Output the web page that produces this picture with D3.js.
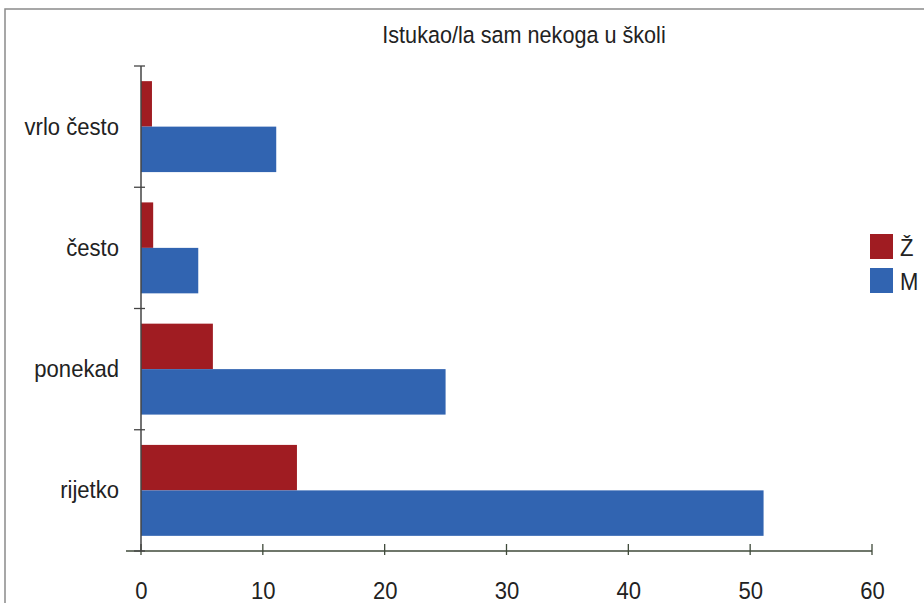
<!DOCTYPE html>
<html><head><meta charset="utf-8">
<script src="https://cdn.jsdelivr.net/npm/d3@7"></script>
<style>body{margin:0;background:#fff;overflow:hidden}svg{display:block}</style>
</head><body>
<svg id="c" width="924" height="603"></svg>
<script>
const title = "Istukao/la sam nekoga u školi";
const categories = ["vrlo često", "često", "ponekad", "rijetko"];
const seriesNames = ["Ž", "M"];
const valuesZ = [0.9, 1.0, 5.9, 12.8];
const valuesM = [11.1, 4.7, 25.0, 51.1];
const xTicks = [0, 10, 20, 30, 40, 50, 60];
const colors = ["#a01c22", "#3164b1"];

const font = "'Liberation Sans Narrow','Arial Narrow','Liberation Sans',Arial,sans-serif";
const sx = 0.92;
const svg = d3.select("#c");
const m = {l: 141, r: 872, t: 66, b: 551};

function label(sel, xx, yy, txt, size, anchor) {
  return sel.append("text").attr("transform", `translate(${xx},${yy}) scale(${sx},1)`)
    .attr("text-anchor", anchor).attr("font-family", font).attr("font-size", size)
    .attr("fill", "#222").text(txt);
}

svg.append("rect").attr("x", 5).attr("y", 9).attr("width", 940).attr("height", 640)
  .attr("fill", "none").attr("stroke", "#8a8a8a").attr("stroke-width", 1.5);

label(svg, 524, 43, title, 23.5, "middle");

const x = d3.scaleLinear().domain([0, 60]).range([m.l, m.r]);
const y = d3.scaleBand().domain(categories).range([m.t, m.b]).paddingInner(0.25).paddingOuter(0.125);
const sub = d3.scaleBand().domain(seriesNames).range([0, y.bandwidth()]);

const data = categories.map((c, i) => ({c, vals: [valuesZ[i], valuesM[i]]}));
const g = svg.append("g");
data.forEach(d => {
  d.vals.forEach((v, j) => {
    g.append("rect").attr("x", x(0)).attr("y", y(d.c) + sub(seriesNames[j]))
      .attr("width", x(v) - x(0)).attr("height", sub.bandwidth()).attr("fill", colors[j]);
  });
});

// x axis (built from d3 axis, styled)
const xa = svg.append("g").attr("transform", `translate(0,${m.b})`)
  .call(d3.axisBottom(x).tickValues(xTicks).tickSize(0).tickPadding(0));
xa.select(".domain").remove();
xa.selectAll(".tick text").remove();
xa.selectAll(".tick").each(function(d) {
  label(d3.select(this), 0, 48, d, 24, "middle");
});
svg.append("line").attr("x1", 126).attr("x2", m.r).attr("y1", m.b).attr("y2", m.b)
  .attr("stroke", "#3f4a3a").attr("stroke-width", 1.5);
svg.selectAll(".xt").data(xTicks).join("line").attr("class", "xt")
  .attr("x1", d => x(d)).attr("x2", d => x(d)).attr("y1", m.b - 7).attr("y2", m.b + 4)
  .attr("stroke", "#3f4a3a").attr("stroke-width", 1.3);

// y axis
svg.append("line").attr("x1", m.l).attr("x2", m.l).attr("y1", m.t).attr("y2", m.b)
  .attr("stroke", "#444").attr("stroke-width", 1.5);
const step = (m.b - m.t) / categories.length;
const yTickPos = d3.range(categories.length + 1).map(i => m.t + i * step);
svg.selectAll(".yt").data(yTickPos).join("line").attr("class", "yt")
  .attr("x1", m.l - 7).attr("x2", m.l + 4).attr("y1", d => d).attr("y2", d => d)
  .attr("stroke", "#444").attr("stroke-width", 1.3);
categories.forEach(c => label(svg, 119, y(c) + y.bandwidth() / 2 + 8, c, 24, "end"));

// legend
seriesNames.forEach((s, i) => {
  svg.append("rect").attr("x", 870).attr("y", 234 + i * 34).attr("width", 23).attr("height", 25).attr("fill", colors[i]);
  label(svg, 900, 256 + i * 34, s, 24, "start");
});
</script>
</body></html>
